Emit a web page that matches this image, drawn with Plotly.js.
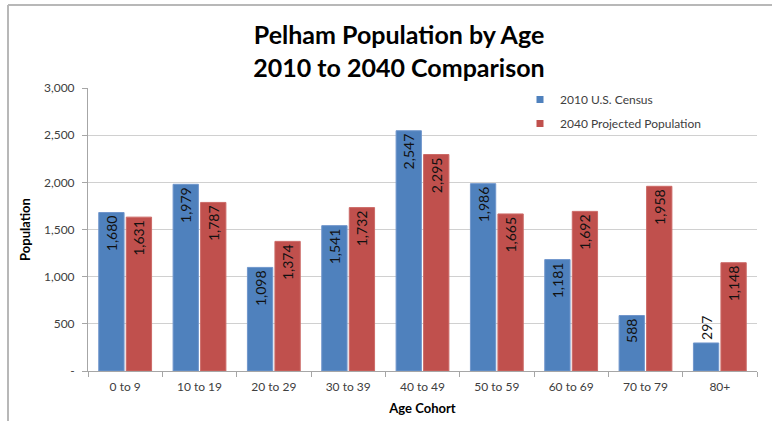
<!DOCTYPE html>
<html>
<head>
<meta charset="utf-8">
<script src="https://cdn.plot.ly/plotly-3.0.1.min.js"></script>
<style>
html,body{margin:0;padding:0;background:#fff;}
#chart{width:772px;height:421px;}
</style>
</head>
<body>
<div id="chart"></div>
<script>
const categories = ["0 to 9","10 to 19","20 to 29","30 to 39","40 to 49","50 to 59","60 to 69","70 to 79","80+"];
const census2010 = [1680,1979,1098,1541,2547,1986,1181,588,297];
const projected2040 = [1631,1787,1374,1732,2295,1665,1692,1958,1148];
const seriesNames = ["2010 U.S. Census","2040 Projected Population"];
const yTickVals = [0,500,1000,1500,2000,2500,3000];
const yTickText = ["-","500","1,000","1,500","2,000","2,500","3,000"];

const FONT = "Lato, 'Open Sans', sans-serif";
const BLUE = "#4F81BD", RED = "#C0504D";
const fmt = v => v.toLocaleString("en-US");

// plot area in pixels
const W = 772, H = 421, L = 88, R = 15, T = 88, B = 50;
const pw = W - L - R, ph = H - T - B;
const px = x => (x - L) / pw;
const py = y => (H - B - y) / ph;

const traces = [
  {
    type: "bar", name: seriesNames[0], x: categories, y: census2010, showlegend: false,
    marker: {color: BLUE, line: {color: "#7096cc", width: 1}},
    text: census2010.map(fmt), textangle: -90,
    textposition: census2010.map(v => v < 400 ? "outside" : "inside"),
    insidetextanchor: "end",
    textfont: {family: FONT, size: 14, color: "#111"},
    outsidetextfont: {family: FONT, size: 14, color: "#111"},
    cliponaxis: false
  },
  {
    type: "bar", name: seriesNames[1], x: categories, y: projected2040, showlegend: false,
    marker: {color: RED, line: {color: "#cc6a67", width: 1}},
    text: projected2040.map(fmt), textangle: -90,
    textposition: "inside", insidetextanchor: "end",
    textfont: {family: FONT, size: 14, color: "#111"},
    cliponaxis: false
  },
  // legend entries (small square keys like the original)
  {type: "scatter", mode: "markers", name: seriesNames[0], x: [null], y: [null],
   legendgroup: "a", marker: {symbol: "square", size: 7, color: BLUE}},
  {type: "scatter", mode: "markers", name: seriesNames[1], x: [null], y: [null],
   legendgroup: "b", marker: {symbol: "square", size: 7, color: RED}}
];

const layout = {
  width: W, height: H,
  margin: {l: L, r: R, t: T, b: B, pad: 0},
  paper_bgcolor: "#fff", plot_bgcolor: "#fff",
  font: {family: FONT, color: "#404040", size: 12},
  title: {
    text: "<b>Pelham Population by Age</b><br><b>2010 to 2040 Comparison</b>",
    font: {family: FONT, size: 25, color: "#000"},
    x: px(399), xref: "paper", xanchor: "center",
    y: 1 - 44 / H, yref: "container", yanchor: "middle"
  },
  barmode: "group", bargap: 0.26, bargroupgap: 0.08,
  xaxis: {
    type: "category",
    showline: true, linecolor: "#a6a6a6", linewidth: 1,
    ticks: "outside", tickson: "boundaries", ticklen: 5, tickcolor: "#a6a6a6",
    ticklabelstandoff: 5,
    tickfont: {family: FONT, size: 12, color: "#404040"},
    showgrid: false,
    title: {text: "<b>Age Cohort</b>", font: {family: FONT, size: 13, color: "#000"}, standoff: 10}
  },
  yaxis: {
    range: [0, 3000],
    tickvals: yTickVals, ticktext: yTickText,
    showline: true, linecolor: "#a6a6a6", linewidth: 1,
    ticks: "outside", ticklen: 5, tickcolor: "#a6a6a6",
    ticklabelstandoff: 5,
    showgrid: true, gridcolor: "#d0d0d0", gridwidth: 1,
    zeroline: false,
    tickfont: {family: FONT, size: 12, color: "#404040"},
    title: {text: "<b>Population</b>", font: {family: FONT, size: 13, color: "#000"}, standoff: 10}
  },
  legend: {
    x: px(520), y: py(85), xanchor: "left", yanchor: "top",
    bgcolor: "rgba(255,255,255,0)",
    font: {family: FONT, size: 12, color: "#404040"},
    traceorder: "grouped", tracegroupgap: 5,
    itemwidth: 30
  },
  shapes: [
    {type: "line", xref: "paper", yref: "paper", x0: px(8), x1: px(772), y0: py(5), y1: py(5),
     line: {color: "#b8b8b8", width: 2}},
    {type: "line", xref: "paper", yref: "paper", x0: px(8), x1: px(8), y0: py(5), y1: py(421),
     line: {color: "#b8b8b8", width: 2}}
  ]
};

Plotly.newPlot("chart", traces, layout, {displayModeBar: false, staticPlot: true});
</script>
</body>
</html>
